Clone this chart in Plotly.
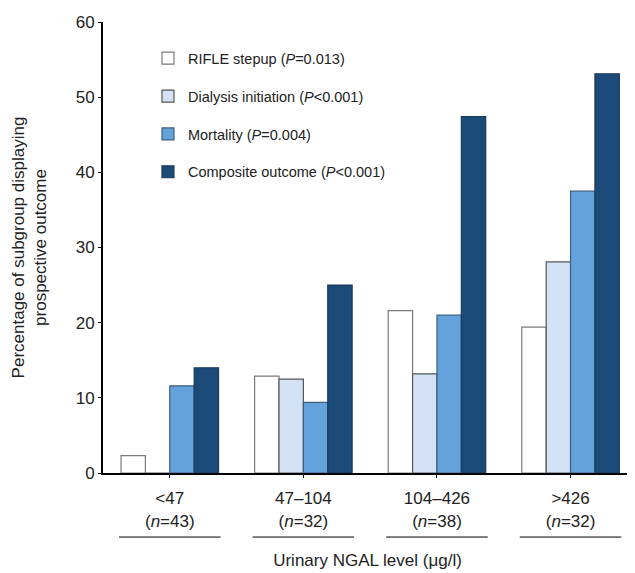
import plotly.graph_objects as go

categories = ["&lt;47<br>(<i>n</i>=43)", "47–104<br>(<i>n</i>=32)",
              "104–426<br>(<i>n</i>=38)", "&gt;426<br>(<i>n</i>=32)"]
series_names = ["RIFLE stepup (<i>P</i>=0.013)",
                "Dialysis initiation (<i>P</i>&lt;0.001)",
                "Mortality (<i>P</i>=0.004)",
                "Composite outcome (<i>P</i>&lt;0.001)"]
rifle = [2.3, 12.9, 21.6, 19.4]
dialysis = [0, 12.5, 13.2, 28.1]
mortality = [11.6, 9.4, 21.0, 37.5]
composite = [14.0, 25.0, 47.4, 53.1]
y_ticks = [0, 10, 20, 30, 40, 50, 60]

colors = ["#ffffff", "#d3e3f5", "#64a2dc", "#1b4a78"]
edges = ["#7a7a7a", "#555555", "#3f5f80", "#1b3a5c"]
values = [rifle, dialysis, mortality, composite]

FONT = "Liberation Sans, Arial, sans-serif"
fig = go.Figure()
for i, (name, vals) in enumerate(zip(series_names, values)):
    fig.add_trace(go.Bar(
        x=list(range(len(categories))), y=vals, name=name,
        marker=dict(color=colors[i], line=dict(color=edges[i], width=1.2)),
        legendgroup=f"g{i}",
    ))

# underline segments beneath each category label
for i in range(len(categories)):
    fig.add_shape(type="line", xref="x", yref="paper",
                  x0=i - 0.38, x1=i + 0.38, y0=-0.142, y1=-0.142,
                  line=dict(color="black", width=1))

fig.update_layout(
    width=635, height=573,
    margin=dict(l=95, r=11, t=14, b=108),
    paper_bgcolor="white", plot_bgcolor="white",
    font=dict(family=FONT, size=17, color="#222"),
    barmode="group", bargap=0.27, bargroupgap=0,
    showlegend=True,
    legend=dict(x=0.085, y=0.955, xanchor="left", yanchor="top",
                font=dict(size=14.5, family=FONT, color="#222"),
                tracegroupgap=16, traceorder="grouped",
                bgcolor="rgba(0,0,0,0)"),
    xaxis=dict(
        tickmode="array", tickvals=list(range(len(categories))),
        ticktext=categories, range=[-0.5, 3.46],
        showline=True, linecolor="black", linewidth=2,
        ticks="outside", ticklen=3, tickson="boundaries",
        tickcolor="black", showgrid=False, zeroline=False,
        tickfont=dict(size=17), automargin=False, ticklabelstandoff=6,
        title=dict(text="Urinary NGAL level (μg/l)", font=dict(size=17), standoff=25),
    ),
    yaxis=dict(
        range=[0, 60], tickvals=y_ticks,
        showline=True, linecolor="black", linewidth=2,
        ticks="outside", ticklen=3, tickcolor="black",
        showgrid=False, zeroline=False,
        tickfont=dict(size=17), automargin=False,
        title=dict(text="Percentage of subgroup displaying<br>prospective outcome",
                   font=dict(size=17), standoff=25),
    ),
)
fig.write_html("out.html")
